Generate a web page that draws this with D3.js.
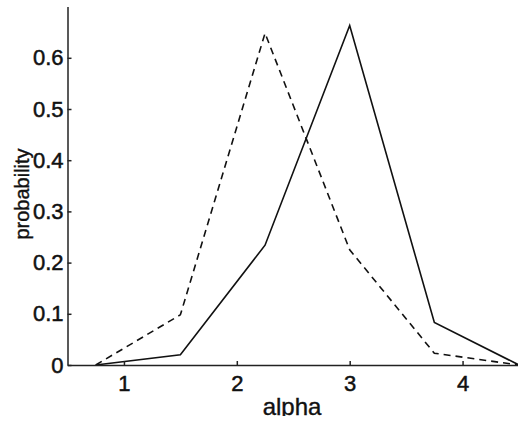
<!DOCTYPE html>
<html lang="en">
<head>
<meta charset="UTF-8">
<script src="https://d3js.org/d3.v7.min.js"></script>
<style>
  body { margin: 0; background: #fff; }
  svg { display: block; }
  .axis path, .axis line { stroke: #222; stroke-width: 1.5px; }
  .line { fill: none; stroke: #111; stroke-width: 1.6px; }
</style>
</head>
<body>
<script>
// data
var alpha = [0.75, 1.5, 2.25, 3, 3.75, 4.5];
var solid = [0, 0.02, 0.234, 0.663, 0.083, 0];
var dashed = [0, 0.098, 0.648, 0.225, 0.023, 0];
var xTicks = [1, 2, 3, 4];
var yTicks = [0, 0.1, 0.2, 0.3, 0.4, 0.5, 0.6];

var W = 518, H = 423;
var font = "'Liberation Sans', Arial, sans-serif";
var x = d3.scaleLinear().domain([0.5, 4.5]).range([67.5, 519]);
var y = d3.scaleLinear().domain([0, 0.7]).range([365, 6.6]);

var svg = d3.select("body").append("svg")
  .attr("width", W).attr("height", H);

var line = d3.line()
  .x(function(d) { return x(d[0]); })
  .y(function(d) { return y(d[1]); });

svg.append("path")
  .datum(d3.zip(alpha, dashed))
  .attr("class", "line")
  .attr("stroke-dasharray", "7,5")
  .attr("d", line);

svg.append("path")
  .datum(d3.zip(alpha, solid))
  .attr("class", "line")
  .attr("d", line);

// axes, ticks point inward
svg.append("g")
  .attr("class", "axis")
  .attr("transform", "translate(0,365)")
  .call(d3.axisBottom(x).tickValues(xTicks).tickSize(-4).tickSizeOuter(0).tickPadding(10).tickFormat(d3.format("d")));

svg.append("g")
  .attr("class", "axis")
  .attr("transform", "translate(67.5,0)")
  .call(d3.axisLeft(y).tickValues(yTicks).tickSize(-4).tickSizeOuter(0).tickPadding(4)
    .tickFormat(function(d) { return d === 0 ? "0" : d3.format(".1f")(d); }));

svg.selectAll(".axis text")
  .style("font-family", font)
  .style("font-size", "22px")
  .style("fill", "#111")
  .style("stroke", "#111")
  .style("stroke-width", "0.5px");

// axis titles; the x title is cut at its baseline in the reference
svg.append("clipPath").attr("id", "cut")
  .append("rect").attr("x", 0).attr("y", 0).attr("width", W).attr("height", 416);

svg.append("text")
  .attr("x", 292)
  .attr("y", 415)
  .attr("text-anchor", "middle")
  .attr("clip-path", "url(#cut)")
  .style("font-family", font)
  .style("font-size", "24px")
  .style("fill", "#111")
  .style("stroke", "#111")
  .style("stroke-width", "0.4px")
  .text("alpha");

svg.append("text")
  .attr("transform", "translate(29,194)rotate(-90)")
  .attr("text-anchor", "middle")
  .style("font-family", font)
  .style("font-size", "20px")
  .style("fill", "#111")
  .style("stroke", "#111")
  .style("stroke-width", "0.4px")
  .text("probability");
</script>
</body>
</html>
